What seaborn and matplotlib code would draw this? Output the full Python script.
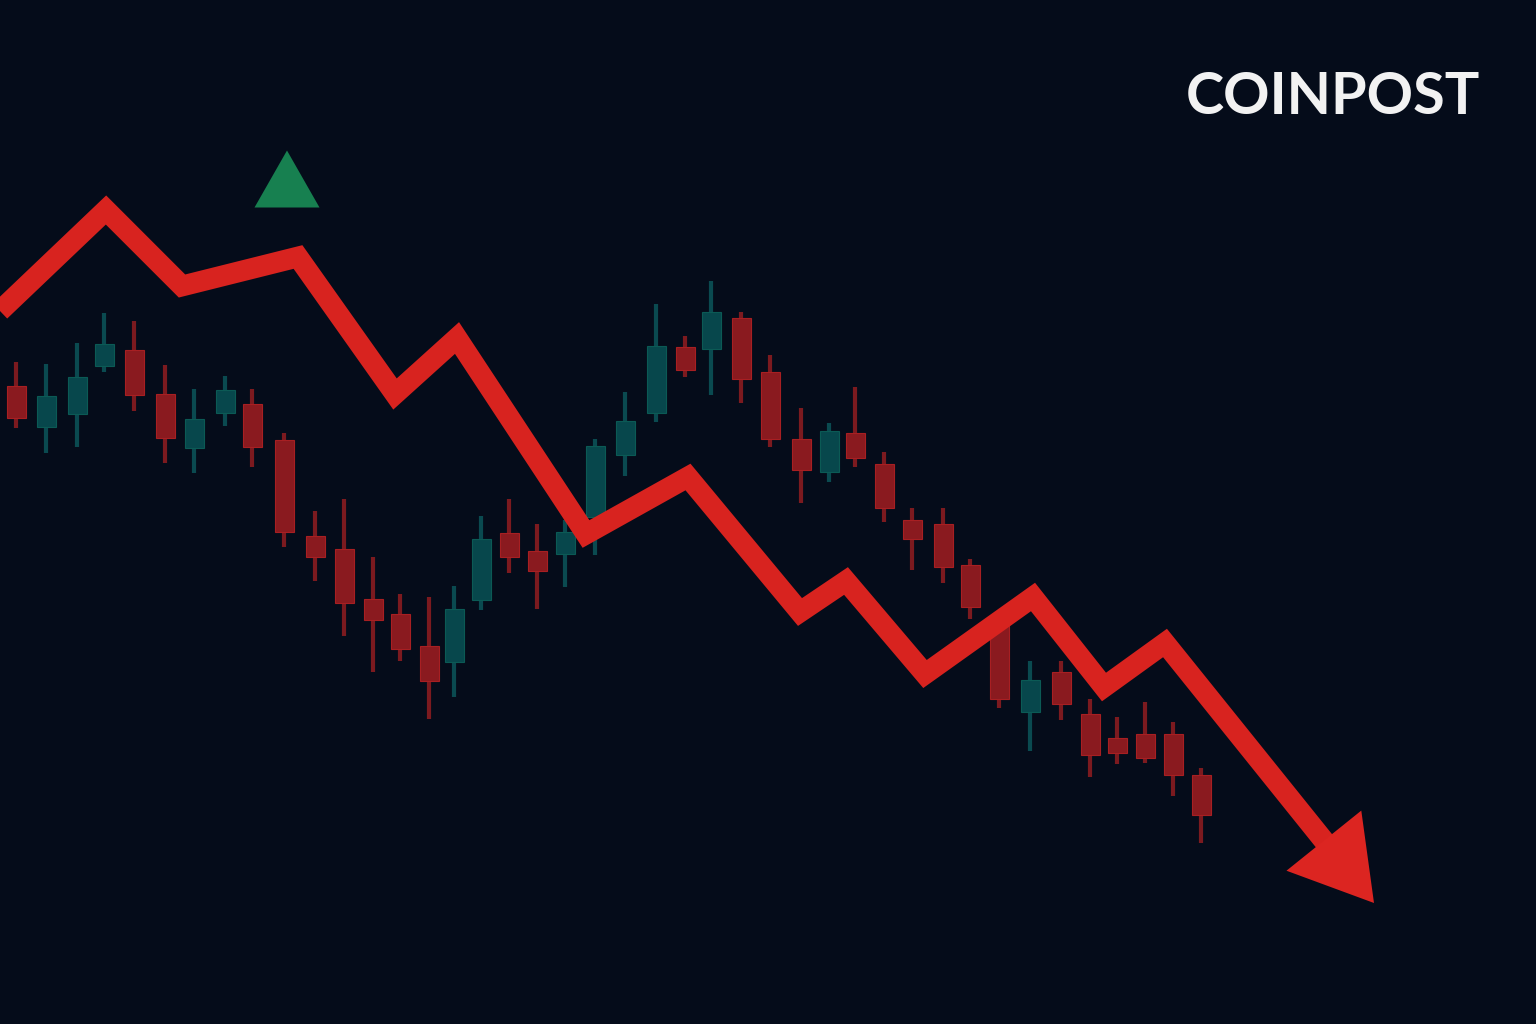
import numpy as np
import pandas as pd
import matplotlib
matplotlib.use("Agg")
import matplotlib.pyplot as plt
import seaborn as sns
from matplotlib.patches import Polygon

# ---------------- data (screen-space price levels, y grows downward) ----------------
candle_x = [16, 46, 77, 104, 134, 165, 194, 225, 252, 284, 315, 344, 373, 400, 429,
            454, 481, 509, 537, 565, 595, 625, 656, 685, 711, 741, 770, 801, 829, 855,
            884, 912, 943, 970, 999, 1030, 1061, 1090, 1117, 1145, 1173, 1201]
body_top = [386, 396, 377, 344, 350, 394, 419, 390, 404, 440, 536, 549, 599, 614, 646,
            609, 539, 533, 551, 532, 446, 421, 346, 347, 312, 318, 372, 439, 431, 433,
            464, 520, 524, 565, 622, 680, 672, 714, 738, 734, 734, 775]
body_bot = [418, 427, 414, 366, 395, 438, 448, 413, 447, 532, 557, 603, 620, 649, 681,
            662, 600, 557, 571, 554, 517, 455, 413, 370, 349, 379, 439, 470, 472, 458,
            508, 539, 567, 607, 699, 712, 704, 755, 753, 758, 775, 815]
wick_top = [362, 364, 343, 313, 321, 365, 389, 376, 389, 433, 511, 499, 557, 594, 597,
            586, 516, 499, 524, 520, 439, 392, 304, 336, 281, 312, 355, 408, 423, 387,
            452, 508, 508, 559, 612, 661, 661, 699, 717, 702, 722, 768]
wick_bot = [428, 453, 447, 372, 411, 463, 473, 426, 467, 547, 581, 636, 672, 661, 719,
            697, 610, 573, 609, 587, 555, 476, 422, 377, 395, 403, 447, 503, 482, 467,
            522, 570, 583, 619, 708, 751, 720, 777, 764, 763, 796, 843]
direction = ["down", "up", "up", "up", "down", "down", "up", "up", "down", "down",
             "down", "down", "down", "down", "down", "up", "up", "down", "down", "up",
             "up", "up", "up", "down", "up", "down", "down", "down", "up", "down",
             "down", "down", "down", "down", "down", "up", "down", "down", "down", "down",
             "down", "down"]

trend_x = [0, 106, 182, 298, 395, 457, 586, 688, 800, 846, 925, 1033, 1104, 1165, 1374]
trend_y = [311, 210, 286, 257, 394, 338, 534, 477, 612, 581, 674, 597, 687, 643, 903]

signal_x, signal_y = [287], [179]   # green "up" marker
brand = "COINPOST"

# ---------------- style ----------------
BG = "#050c1a"
RED_LINE = "#d8231f"
RED_BODY = "#8a1a1f"
RED_EDGE = "#a81f22"
RED_WICK = "#7c1a1f"
TEAL_BODY = "#07474c"
TEAL_EDGE = "#0b5a55"
TEAL_WICK = "#0a4a50"
GREEN = "#178050"

sns.set_theme(style="white")
plt.rcParams["font.family"] = ["Lato", "DejaVu Sans"]

fig = plt.figure(figsize=(15.36, 10.24), dpi=100, facecolor=BG)
ax = fig.add_axes([0, 0, 1, 1])
ax.set_facecolor(BG)
ax.set_xlim(0, 1536)
ax.set_ylim(1024, 0)
ax.axis("off")

candles = pd.DataFrame(dict(x=candle_x, top=body_top, bot=body_bot,
                            hi=wick_top, lo=wick_bot, dir=direction))

for _, c in candles.iterrows():
    up = c["dir"] == "up"
    ax.vlines(c["x"], c["hi"], c["lo"], color=TEAL_WICK if up else RED_WICK,
              linewidth=3.0, zorder=1)
    ax.bar(c["x"], c["bot"] - c["top"], bottom=c["top"], width=19,
           color=TEAL_BODY if up else RED_BODY,
           edgecolor=TEAL_EDGE if up else RED_EDGE, linewidth=0.8, zorder=2)

# trend line with arrow head
tx = np.array(trend_x, dtype=float)
ty = np.array(trend_y, dtype=float)
d = np.array([tx[-1] - tx[-2], ty[-1] - ty[-2]])
d /= np.hypot(*d)
head_len, head_half = 80, 48
base = np.array([tx[-1], ty[-1]]) - d * head_len
shaft_x = list(tx[:-1]) + [base[0] + d[0] * 6]
shaft_y = list(ty[:-1]) + [base[1] + d[1] * 6]
line_df = pd.DataFrame(dict(x=shaft_x, y=shaft_y))
sns.lineplot(data=line_df, x="x", y="y", sort=False, ax=ax, color=RED_LINE,
             linewidth=15, zorder=3)
for l in ax.get_lines():
    l.set_solid_joinstyle("miter")
    l.set_solid_capstyle("butt")
perp = np.array([-d[1], d[0]])
head = [(tx[-1], ty[-1]), tuple(base + perp * head_half), tuple(base - perp * head_half)]
ax.add_patch(Polygon(head, closed=True, facecolor="#dc2521", edgecolor="none", zorder=4))

# green up signal marker
w, h = 65, 57
for sx, sy in zip(signal_x, signal_y):
    tri = [(sx, sy - h / 2), (sx - w / 2, sy + h / 2), (sx + w / 2, sy + h / 2)]
    ax.add_patch(Polygon(tri, closed=True, facecolor=GREEN, edgecolor="none", zorder=4))

ax.text(1480, 97, brand, ha="right", va="center", color="#f2f2f2",
        fontsize=41.5, fontweight="bold", zorder=5)

fig.savefig("out.png", dpi=100, facecolor=BG)
